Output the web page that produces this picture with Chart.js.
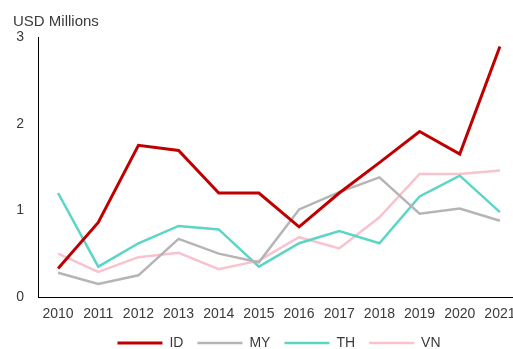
<!DOCTYPE html>
<html>
<head>
<meta charset="utf-8">
<script src="https://cdn.jsdelivr.net/npm/chart.js@4/dist/chart.umd.min.js"></script>
<style>
  html, body { margin: 0; padding: 0; background: #fff; overflow: hidden; width: 513px; height: 349px; }
  .wrap { width: 530px; height: 360px; }
</style>
</head>
<body>
<div class="wrap"><canvas id="chart" width="530" height="360"></canvas></div>
<script>
const YEARS = ["2010", "2011", "2012", "2013", "2014", "2015", "2016", "2017", "2018", "2019", "2020", "2021"];
const ID = [0.33, 0.86, 1.75, 1.69, 1.2, 1.2, 0.81, 1.2, 1.55, 1.91, 1.65, 2.89];
const MY = [0.28, 0.15, 0.25, 0.67, 0.5, 0.4, 1.01, 1.21, 1.38, 0.96, 1.02, 0.88];
const TH = [1.2, 0.35, 0.62, 0.82, 0.78, 0.35, 0.62, 0.76, 0.62, 1.16, 1.4, 0.98];
const VN = [0.5, 0.29, 0.46, 0.51, 0.32, 0.42, 0.69, 0.56, 0.92, 1.42, 1.42, 1.46];
const Y_TICKS = [0, 1, 2, 3];

const FONT = "'Liberation Sans', Arial, sans-serif";
const TEXT = "#3a3a3a";

function series(label, data, color, width) {
  return {
    label,
    data,
    borderColor: color,
    backgroundColor: color,
    borderWidth: width,
    pointRadius: 0,
    pointHoverRadius: 0,
    tension: 0,
    fill: false,
  };
}

new Chart(document.getElementById("chart"), {
  type: "line",
  data: {
    labels: YEARS,
    datasets: [
      series("ID", ID, "#C00000", 3),
      series("MY", MY, "#B5B5B5", 2.5),
      series("TH", TH, "#5BD6C6", 2.5),
      series("VN", VN, "#F8C3CE", 2.5),
    ],
  },
  options: {
    responsive: false,
    animation: false,
    layout: { padding: { left: 13, right: 10, top: 13, bottom: 0 } },
    plugins: {
      title: {
        display: true,
        text: "USD Millions",
        align: "start",
        color: TEXT,
        font: { family: FONT, size: 15, weight: "normal" },
        padding: { top: 0, bottom: 6 },
      },
      legend: {
        position: "bottom",
        fullSize: false,
        labels: {
          usePointStyle: true,
          pointStyle: "line",
          pointStyleWidth: 45,
          padding: 14,
          color: TEXT,
          font: { family: FONT, size: 14 },
        },
      },
      tooltip: { enabled: false },
    },
    scales: {
      x: {
        offset: true,
        afterFit: (scale) => { scale.height = 25; },
        grid: { display: false, drawTicks: false },
        border: { display: true, color: "#000", width: 1 },
        ticks: { color: TEXT, font: { family: FONT, size: 14 }, padding: 9, maxRotation: 0, autoSkip: false },
      },
      y: {
        min: 0,
        max: 3,
        afterFit: (scale) => { scale.width = 25; },
        afterBuildTicks: (scale) => { scale.ticks = Y_TICKS.map((v) => ({ value: v })); },
        grid: { display: false, drawTicks: false },
        border: { display: true, color: "#000", width: 1 },
        ticks: { color: TEXT, font: { family: FONT, size: 14 }, padding: 14 },
      },
    },
  },
});
</script>
</body>
</html>
